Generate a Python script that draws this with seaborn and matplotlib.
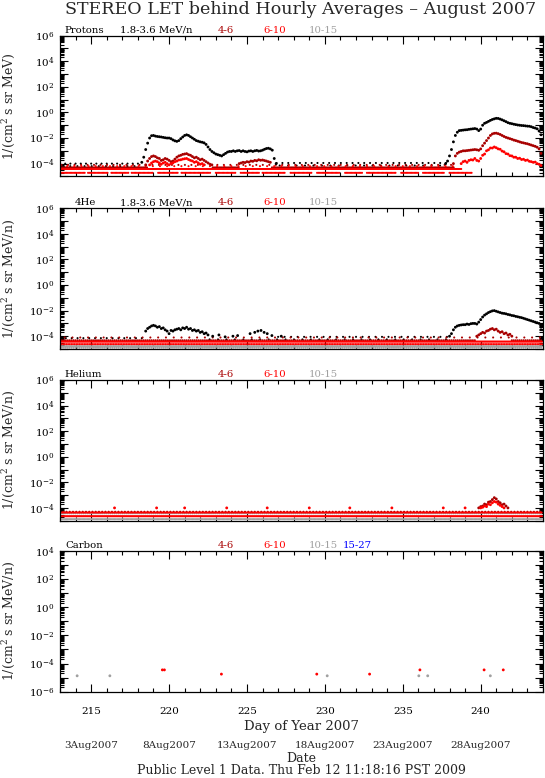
import numpy as np
import pandas as pd
import matplotlib
matplotlib.use("Agg")
import matplotlib.pyplot as plt
import matplotlib.ticker as mticker
import matplotlib.transforms as mtransforms
import seaborn as sns

# ---------------------------------------------------------------
# Data (log10 of intensity)
# ---------------------------------------------------------------
STEP = 0.125  # event curves sampled every 3 hours (days)

chan_colors = {"1.8-3.6": "black", "4-6": "#a80000", "6-10": "#ff0000",
               "10-15": "#a0a0a0", "15-27": "#0000ff"}

panel_names = ["Protons", "4He", "Helium", "Carbon"]
panel_units = ["1/(cm$^2$ s sr MeV)", "1/(cm$^2$ s sr MeV/n)",
               "1/(cm$^2$ s sr MeV/n)", "1/(cm$^2$ s sr MeV/n)"]
panel_decades = [(-5, 6), (-5, 6), (-5, 6), (-6, 4)]
panel_headers = [["1.8-3.6", "4-6", "6-10", "10-15"],
                 ["1.8-3.6", "4-6", "6-10", "10-15"],
                 ["4-6", "6-10", "10-15"],
                 ["4-6", "6-10", "10-15", "15-27"]]

# Protons 1.8-3.6 MeV, first event (start 218.25)
p1_lo_ev1 = [-3.9, -3.5, -2.9, -2.4, -2.0, -1.82, -1.8, -1.85, -1.88, -1.9,
             -1.92, -1.95, -1.98, -2.0, -2.0, -2.05, -2.15, -2.22, -2.26, -2.2,
             -2.05, -1.92, -1.8, -1.75, -1.8, -1.9, -2.0, -2.1, -2.2, -2.25,
             -2.3, -2.33, -2.38, -2.5, -2.7, -2.9, -3.05, -3.15, -3.25, -3.3,
             -3.35, -3.4, -3.3, -3.2, -3.1, -3.05, -3.05, -3.0, -3.05, -3.0,
             -2.98, -3.05, -3.0, -3.05, -3.08, -3.02, -3.0, -3.05, -3.0, -2.97,
             -3.02, -3.0, -2.95, -2.88, -2.82, -2.8, -2.85, -2.95, -3.6, -4.0]
# Protons 4-6 MeV, first event (start 218.5) and shoulder (start 224.5)
p1_mid_ev1 = [-4.1, -3.8, -3.6, -3.45, -3.4, -3.45, -3.55, -3.6, -3.75, -3.7,
              -3.6, -3.65, -3.75, -3.85, -3.8, -3.65, -3.5, -3.4, -3.35, -3.28,
              -3.25, -3.22, -3.3, -3.35, -3.45, -3.55, -3.5, -3.6, -3.7, -3.65,
              -3.75, -3.85, -3.95, -4.05, -4.1]
p1_mid_ev1b = [-4.0, -3.95, -3.9, -3.92, -3.85, -3.88, -3.8, -3.82, -3.75,
               -3.78, -3.7, -3.74, -3.72, -3.76, -3.8, -3.85, -3.9]
# Protons 6-10 MeV, first event (start 218.75)
p1_hi_ev1 = [-4.1, -3.95, -3.85, -3.8, -3.85, -3.95, -4.05, -3.95, -3.9, -4.0,
             -4.1, -4.0, -3.95, -3.85, -3.8, -3.72, -3.7, -3.65, -3.62, -3.6,
             -3.68, -3.75, -3.8, -3.9, -3.85, -3.95, -4.05, -4.0, -4.1]
# Protons second event (1.8-3.6 from 237.75, 4-6 from 238.25, 6-10 from 238.75)
p1_lo_ev2 = [-4.0, -3.8, -3.4, -2.9, -2.3, -1.8, -1.55, -1.42, -1.4, -1.38,
             -1.36, -1.35, -1.32, -1.3, -1.28, -1.26, -1.3, -1.42, -1.3, -1.0,
             -0.85, -0.78, -0.7, -0.62, -0.55, -0.5, -0.46, -0.47, -0.52, -0.58,
             -0.65, -0.72, -0.8, -0.85, -0.88, -0.92, -0.95, -0.98, -1.0, -1.02,
             -1.03, -1.05, -1.07, -1.08, -1.12, -1.18, -1.22, -1.28, -1.45, -1.75]
p1_mid_ev2 = [-4.0, -3.4, -3.2, -3.1, -3.05, -3.0, -3.0, -2.98, -2.96, -2.94,
              -2.92, -2.9, -2.92, -2.96, -2.85, -2.6, -2.4, -2.2, -2.0, -1.8,
              -1.68, -1.63, -1.62, -1.66, -1.72, -1.8, -1.88, -1.95, -2.0, -2.05,
              -2.1, -2.16, -2.2, -2.25, -2.3, -2.35, -2.38, -2.42, -2.45, -2.5,
              -2.55, -2.6, -2.65, -2.72, -2.85, -3.2]
p1_hi_ev2 = [-4.0, -3.85, -3.8, -3.9, -3.75, -3.7, -3.72, -3.6, -3.75, -3.8,
             -3.6, -3.35, -3.25, -3.0, -2.92, -2.78, -2.78, -2.7, -2.76, -2.85,
             -2.88, -3.02, -3.08, -3.22, -3.25, -3.38, -3.4, -3.5, -3.5, -3.6,
             -3.58, -3.68, -3.66, -3.75, -3.72, -3.82, -3.85, -3.9, -3.88, -4.0,
             -4.05, -4.15]
# 4He 1.8-3.6 MeV/n (first event from 218.5, second from 238.0)
p2_lo_ev1 = [-3.6, -3.4, -3.3, -3.2, -3.15, -3.2, -3.3, -3.25, -3.4, -3.35,
             -3.5, -3.6, -3.8, -3.55, -3.6, -3.5, -3.45, -3.4, -3.5, -3.35,
             -3.4, -3.3, -3.45, -3.4, -3.55, -3.5, -3.6, -3.55, -3.7, -3.65,
             -3.8, -3.75, -3.9]
p2_lo_ev1_days = [222.8, 223.2, 223.6, 224.1, 224.4, 225.2, 225.5, 225.7,
                  225.9, 226.1, 226.3, 226.6, 227.2]
p2_lo_ev1_vals = [-4.0, -3.9, -4.05, -4.0, -3.95, -3.8, -3.7, -3.6,
                  -3.55, -3.7, -3.8, -3.95, -4.0]
p2_lo_ev2 = [-4.0, -3.8, -3.5, -3.3, -3.2, -3.15, -3.12, -3.1, -3.1, -3.05,
             -3.08, -3.02, -3.0, -3.0, -3.05, -2.9, -2.7, -2.5, -2.35, -2.25,
             -2.15, -2.08, -2.02, -2.0, -2.05, -2.1, -2.15, -2.2, -2.22, -2.25,
             -2.3, -2.33, -2.38, -2.4, -2.45, -2.48, -2.52, -2.55, -2.6, -2.65,
             -2.7, -2.75, -2.8, -2.85, -2.9, -2.95, -3.0, -3.3]
# 4He 4-6 MeV/n second event (from 239.75)
p2_mid_ev2 = [-4.0, -3.9, -3.8, -3.7, -3.75, -3.6, -3.55, -3.45, -3.4, -3.5,
              -3.45, -3.6, -3.7, -3.65, -3.8, -3.75, -3.9, -3.85, -4.0]
# Helium second event (4-6 from 239.875, 6-10 from 240.0)
p3_mid_ev2 = [-4.0, -3.9, -3.85, -3.7, -3.75, -3.55, -3.5, -3.35, -3.2, -3.3,
              -3.5, -3.6, -3.75, -3.7, -3.85, -4.0]
p3_hi_ev2 = [-4.0, -3.95, -3.85, -3.9, -3.7, -3.75, -3.6, -3.5, -3.55, -3.7,
             -3.8, -3.9, -4.0]
p3_hi_extra_days = [216.5, 219.2, 221.0, 223.7, 226.3, 229.0, 231.6, 234.3,
                    237.6, 239.0]
# Carbon: isolated hourly points
p4_days = [214.1, 216.2, 219.57, 219.7, 223.36, 229.48, 230.15, 232.87,
           236.1, 236.03, 236.6, 240.22, 240.62, 241.45]
p4_vals = [-4.87, -4.87, -4.45, -4.45, -4.75, -4.75, -4.87, -4.75,
           -4.45, -4.87, -4.87, -4.45, -4.87, -4.45]
p4_chan = ["10-15", "10-15", "6-10", "6-10", "6-10", "6-10", "10-15",
           "6-10", "6-10", "10-15", "10-15", "6-10", "10-15", "6-10"]

# Quiet-time count floors: (panel, channel, log10 level, from, to, hours step)
floor_rows = [
    (0, "1.8-3.6", -4.0, 213.0, 218.2, 8), (0, "1.8-3.6", -4.2, 213.2, 218.2, 11),
    (0, "1.8-3.6", -3.95, 226.9, 237.8, 9), (0, "1.8-3.6", -4.15, 227.1, 237.8, 13),
    (0, "4-6", -4.3, 213.0, 218.6, 2), (0, "4-6", -4.3, 222.8, 224.5, 2),
    (0, "4-6", -4.3, 226.6, 238.3, 2), (0, "4-6", -4.1, 213.1, 238.3, 10),
    (0, "6-10", -4.42, 213.0, 238.8, 1.5), (0, "6-10", -4.2, 213.0, 238.5, 11),
    (0, "6-10", -4.72, 213.0, 214.6, 2), (0, "6-10", -4.72, 214.8, 216.1, 2),
    (0, "6-10", -4.72, 216.3, 217.4, 2), (0, "6-10", -4.72, 217.6, 219.0, 2),
    (0, "6-10", -4.72, 219.3, 220.6, 2), (0, "6-10", -4.72, 220.8, 222.7, 2),
    (0, "6-10", -4.72, 223.0, 224.3, 2), (0, "6-10", -4.72, 224.6, 225.8, 2),
    (0, "6-10", -4.72, 226.0, 227.5, 2), (0, "6-10", -4.72, 227.8, 229.2, 2),
    (0, "6-10", -4.72, 229.5, 231.0, 2), (0, "6-10", -4.72, 231.3, 232.4, 2),
    (0, "6-10", -4.72, 232.7, 234.6, 2), (0, "6-10", -4.72, 234.9, 236.0, 2),
    (0, "6-10", -4.72, 236.3, 237.7, 2), (0, "6-10", -4.72, 238.0, 239.5, 2),
    (1, "10-15", -4.78, 213.0, 244.0, 2), (1, "10-15", -4.9, 213.0, 244.0, 3),
    (1, "1.8-3.6", -4.15, 213.0, 218.4, 9), (1, "1.8-3.6", -4.05, 227.0, 238.0, 10),
    (1, "1.8-3.6", -4.25, 222.6, 238.0, 13),
    (1, "4-6", -4.32, 213.0, 239.7, 3), (1, "4-6", -4.32, 242.0, 244.0, 3),
    (1, "4-6", -4.1, 213.3, 244.0, 12),
    (1, "6-10", -4.42, 213.0, 244.0, 1.5), (1, "6-10", -4.62, 213.0, 244.0, 2.5),
    (2, "10-15", -4.42, 213.0, 244.0, 3), (2, "10-15", -4.88, 213.0, 244.0, 2),
    (2, "4-6", -4.3, 213.0, 244.0, 5),
    (2, "6-10", -4.36, 213.0, 244.0, 2), (2, "6-10", -4.65, 213.0, 244.0, 1.5),
]

event_curves = [
    (0, "1.8-3.6", 218.25, p1_lo_ev1), (0, "4-6", 218.5, p1_mid_ev1),
    (0, "4-6", 224.5, p1_mid_ev1b), (0, "6-10", 218.75, p1_hi_ev1),
    (0, "1.8-3.6", 237.75, p1_lo_ev2), (0, "4-6", 238.25, p1_mid_ev2),
    (0, "6-10", 238.75, p1_hi_ev2),
    (1, "1.8-3.6", 218.5, p2_lo_ev1), (1, "1.8-3.6", 238.0, p2_lo_ev2),
    (1, "4-6", 239.75, p2_mid_ev2),
    (2, "4-6", 239.875, p3_mid_ev2), (2, "6-10", 240.0, p3_hi_ev2),
]

draw_order = {"10-15": 0, "1.8-3.6": 1, "4-6": 2, "6-10": 3, "15-27": 4}

# ---------------------------------------------------------------
# Build a long table
# ---------------------------------------------------------------
frames = []
for panel, chan, lev, t0, t1, step_h in floor_rows:
    days = np.arange(t0, t1, step_h / 24.0)
    frames.append(pd.DataFrame({"panel": panel, "chan": chan, "day": days,
                                "logf": lev, "kind": "floor"}))
for panel, chan, t0, vals in event_curves:
    days = t0 + STEP * np.arange(len(vals))
    frames.append(pd.DataFrame({"panel": panel, "chan": chan, "day": days,
                                "logf": vals, "kind": "event"}))
frames.append(pd.DataFrame({"panel": 1, "chan": "1.8-3.6", "kind": "event",
                            "day": p2_lo_ev1_days, "logf": p2_lo_ev1_vals}))
frames.append(pd.DataFrame({"panel": 2, "chan": "6-10", "kind": "event",
                            "day": p3_hi_extra_days, "logf": -4.0}))
frames.append(pd.DataFrame({"panel": 3, "chan": p4_chan, "day": p4_days,
                            "logf": p4_vals, "kind": "event"}))
df = pd.concat(frames, ignore_index=True)
df["flux"] = 10.0 ** df["logf"]
df["order"] = df["chan"].map(draw_order)
df = df.sort_values("order", kind="stable")

# ---------------------------------------------------------------
# Figure
# ---------------------------------------------------------------
sns.set_theme(style="ticks")
plt.rcParams["font.family"] = ["DejaVu Serif"]
plt.rcParams["mathtext.fontset"] = "dejavuserif"

W, H = 545, 778
fig = plt.figure(figsize=(W / 100, H / 100), dpi=100)
fig.patch.set_facecolor("white")

ax_left, ax_w, ax_h = 60, 483, 140.7
tops = [35.7, 208.3, 380.0, 551.0]
marker_size = {"floor": 2.2, "event": 4.2}


def fx(x):
    return x / W


def fy(y):
    return 1 - y / H


def exp_fmt(v, pos):
    e = int(round(np.log10(v)))
    return r"$10^{%d}$" % e if e % 2 == 0 else ""


head_x = {"1.8-3.6": 120, "4-6": 218, "6-10": 263, "10-15": 309, "15-27": 343}
head_txt = {"1.8-3.6": "1.8-3.6 MeV/n", "4-6": "4-6", "6-10": "6-10",
            "10-15": "10-15", "15-27": "15-27"}
name_x = [64, 75, 64, 65]

axes = []
for i in range(4):
    ax = fig.add_axes([fx(ax_left), fy(tops[i] + ax_h), fx(ax_w), ax_h / H])
    axes.append(ax)
    ax.set_yscale("log")
    for kind in ["floor", "event"]:
        sub = df[(df["panel"] == i) & (df["kind"] == kind)]
        if len(sub) == 0:
            continue
        sns.scatterplot(data=sub, x="day", y="flux", hue="chan",
                        palette=chan_colors, s=marker_size[kind], marker="o",
                        linewidth=0, legend=False, ax=ax)
    lo, hi = panel_decades[i]
    ax.set_xlim(213, 244)
    ax.set_ylim(10.0 ** lo, 10.0 ** hi)
    ax.xaxis.set_major_locator(mticker.MultipleLocator(5))
    ax.xaxis.set_minor_locator(mticker.MultipleLocator(1))
    ax.yaxis.set_major_locator(mticker.LogLocator(base=10, numticks=30))
    ax.yaxis.set_minor_locator(mticker.LogLocator(base=10, subs=np.arange(2, 10),
                                                  numticks=30))
    ax.yaxis.set_minor_formatter(mticker.NullFormatter())
    ax.yaxis.set_major_formatter(mticker.FuncFormatter(exp_fmt))
    ax.tick_params(which="both", direction="in", top=True, right=True,
                   width=0.8, colors="black", labelsize=7.5)
    ax.tick_params(which="major", length=6, pad=4)
    ax.tick_params(which="minor", length=3)
    for sp in ax.spines.values():
        sp.set_linewidth(0.9)
        sp.set_color("black")
    ax.set_xlabel("")
    ax.set_ylabel(panel_units[i], fontsize=9)
    ax.yaxis.set_label_coords(-0.089, 0.5)
    if i < 3:
        ax.tick_params(labelbottom=False)
    else:
        ax.tick_params(axis="x", which="major", pad=11)

    # panel header line
    hy = fy(tops[i] - 5.5)
    fig.text(fx(name_x[i]), hy, panel_names[i], fontsize=7.3, va="center",
             color="black")
    for ch in panel_headers[i]:
        fig.text(fx(head_x[ch]), hy, head_txt[ch], fontsize=7.3, va="center",
                 color=chan_colors[ch])

ax4 = axes[3]
ax4.set_xlabel("Day of Year 2007", fontsize=9.5, labelpad=3)

date_ticks = [215, 220, 225, 230, 235, 240]
date_labels = ["3Aug2007", "8Aug2007", "13Aug2007", "18Aug2007",
               "23Aug2007", "28Aug2007"]
trans = mtransforms.blended_transform_factory(ax4.transData, fig.transFigure)
for d, lab in zip(date_ticks, date_labels):
    ax4.text(d, fy(745), lab, transform=trans, ha="center", va="center",
             fontsize=7.5)
fig.text(fx(301.5), fy(758), "Date", ha="center", va="center", fontsize=9)
fig.text(fx(301.5), fy(770), "Public Level 1 Data. Thu Feb 12 11:18:16 PST 2009",
         ha="center", va="center", fontsize=9)
fig.text(fx(301), fy(9.5), "STEREO LET behind Hourly Averages \u2013 August 2007",
         ha="center", va="center", fontsize=12.6)

fig.savefig("out.png", dpi=100)
plt.close(fig)
